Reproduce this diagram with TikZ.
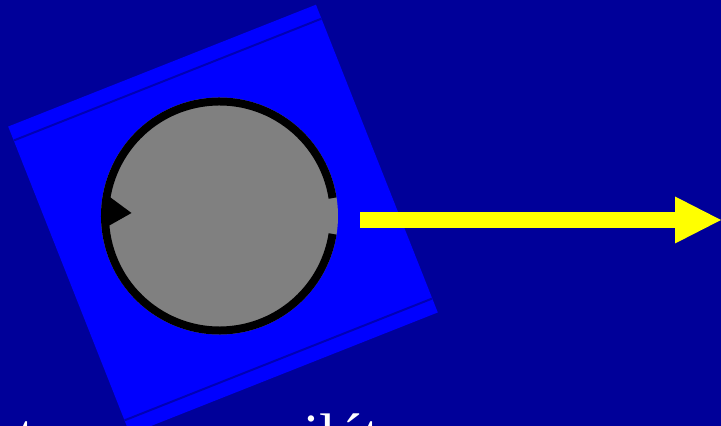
\documentclass[tikz,border=0pt]{standalone}
\usepackage{fontspec}
\setmainfont{Liberation Serif}
\usetikzlibrary{arrows.meta}
\definecolor{Navy}{HTML}{000099}
\definecolor{Royal}{HTML}{0000FF}
\definecolor{Seam}{HTML}{0000B4}
\definecolor{Disk}{HTML}{808080}
\definecolor{Lemon}{HTML}{FFFF00}

\begin{document}
\begin{tikzpicture}[x=1pt,y=1pt,every node/.style={font=\fontsize{60}{72}\selectfont,text=white,inner sep=0pt},
  seam/.style={Seam,line width=2pt}]
  \useasboundingbox (0,0) rectangle (721,426);
  \fill[Navy] (0,0) rectangle (721,426);
  \clip (0,0) rectangle (721,426);
  \coordinate (block) at (223,206.5);
  \coordinate (c) at (219.5,210);
  \coordinate (tail) at (360,206);
  \coordinate (head) at (721,206);
  \begin{scope}[shift={(block)},rotate=21.6]
    \fill[Royal] (-165.5,-165.5) rectangle (165.5,165.5);
    \draw[seam] (-165.5,150.5) -- (165.5,150.5);
    \draw[seam] (-165.5,-150.5) -- (165.5,-150.5);
  \end{scope}
  \begin{scope}[shift={(c)}]
    \fill[Disk] (0,0) circle (118.5);
    \draw[black,line width=8pt] (9:114.5) arc[start angle=9,end angle=351,radius=114.5];
    \fill[black] (-111,20) -- (-88,3) -- (-111,-10) -- cycle;
  \end{scope}
  \draw[Lemon,line width=16pt,-{Triangle[length=46pt,width=47pt,line width=0pt]}] (tail) -- (head);
  \node[anchor=base west] (tword) at (18,-30) {t};
  \node[anchor=base west] (ilet) at (303,-30) {ilét};
\end{tikzpicture}
\end{document}
